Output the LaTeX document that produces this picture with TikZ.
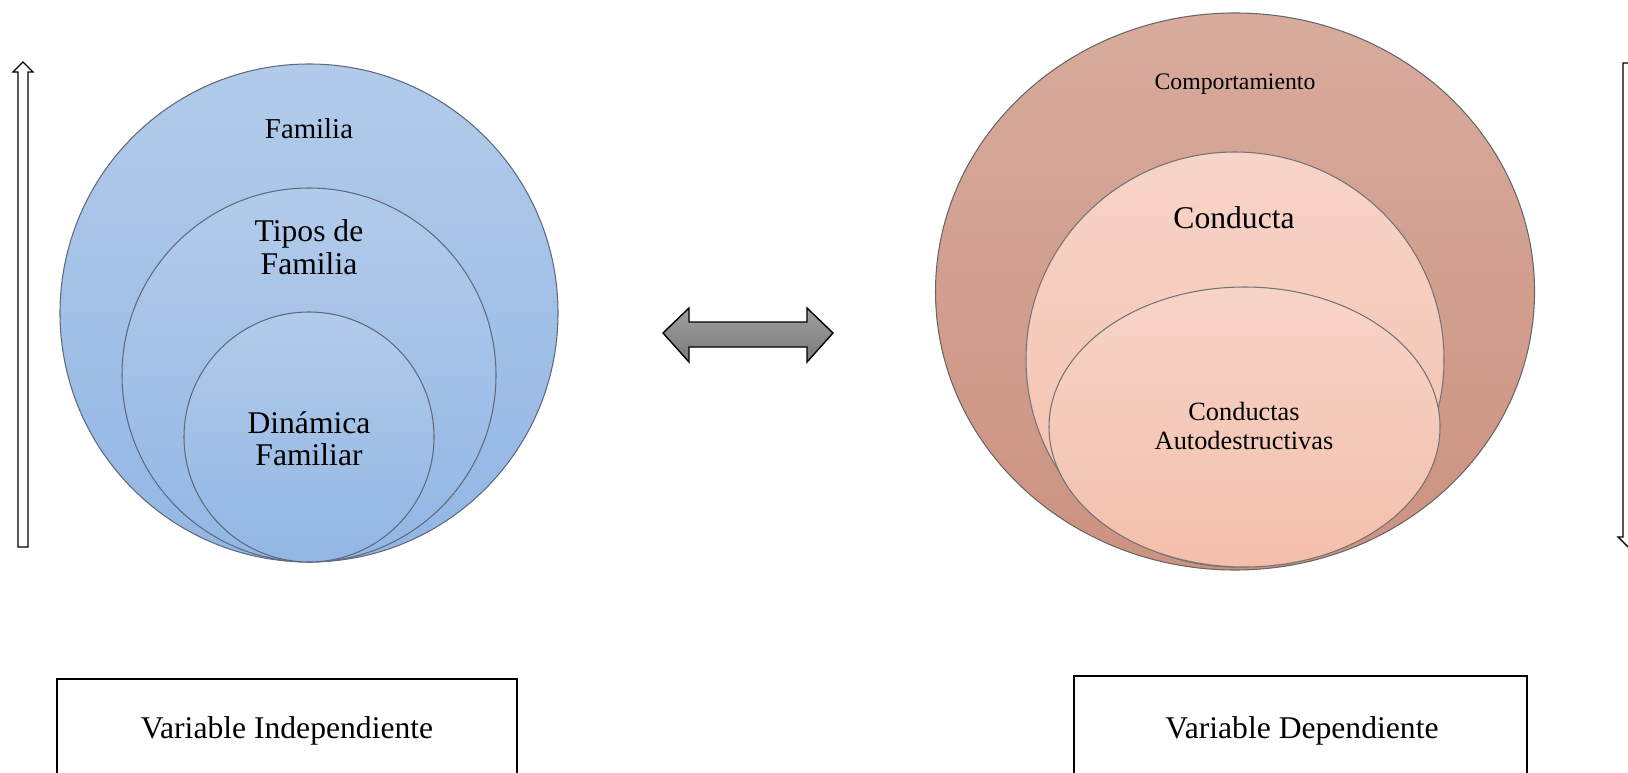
\documentclass[tikz,border=0pt]{standalone}
\usepackage{fontspec}
\setmainfont{Liberation Serif}
\usepackage{xcolor}
\usetikzlibrary{positioning}
\definecolor{azulA}{RGB}{178,203,234}
\definecolor{azulB}{RGB}{146,182,228}
\definecolor{bordeazul}{RGB}{95,105,125}
\definecolor{rojoA}{RGB}{216,171,156}
\definecolor{rojoB}{RGB}{204,146,128}
\definecolor{rosaA}{RGB}{247,212,200}
\definecolor{rosaB}{RGB}{243,191,171}
\tikzset{
  azul/.style={top color=azulA,bottom color=azulB,draw=bordeazul,line width=0.6pt},
  rojo/.style={top color=rojoA,bottom color=rojoB,draw=black!60,line width=0.6pt},
  rosa/.style={top color=rosaA,bottom color=rosaB,draw=black!55,line width=0.6pt},
  flecha/.style={draw=black,line width=0.8pt,fill=white},
  caja/.style={draw=black,line width=1.1pt,fill=white},
  txt/.style={align=center,font=\fontsize{18}{19}\selectfont,inner sep=0pt}
}

\begin{document}
\begin{tikzpicture}[x=0.02cm,y=0.02cm]
\useasboundingbox (0,0) rectangle (1628,772);
\clip (0,0) rectangle (1628,772);
% flechas laterales
\draw[flecha] (18,225) -- (18,700) -- (13,700) -- (23,710) -- (33,700) -- (28,700) -- (28,225) -- cycle;
\draw[flecha] (1623,709) -- (1623,235) -- (1618,235) -- (1628,225) -- (1638,235) -- (1633,235) -- (1633,709) -- cycle;
% circulos de la variable independiente
\draw[azul] (309,459) circle (249);
\draw[azul] (309,397) circle (187);
\draw[azul] (309,335) circle (125);
\node[txt,font=\fontsize{16.4}{18}\selectfont] (familia) at (309,643) {Familia};
\node[txt] (tipos) at (309,525) {Tipos de\\Familia};
\node[txt,font=\fontsize{18}{18.2}\selectfont] (dinamica) at (309,333) {Dinámica\\Familiar};
% flecha doble
\draw[line width=0.8pt,top color=gray!75,bottom color=gray!90!black!95,draw=black]
  (663,439) -- (689,464) -- (689,450) -- (807,450) -- (807,464) -- (833,439)
  -- (807,410) -- (807,425) -- (689,425) -- (689,410) -- cycle;
% elipses de la variable dependiente
\draw[rojo] (1235,480.5) ellipse (299.5 and 278.5);
\draw[rosa] (1235,412.5) ellipse (209 and 207.5);
\draw[rosa] (1244.5,345) ellipse (195.5 and 140);
\node[txt,font=\fontsize{13.5}{15}\selectfont] (comp) at (1235,688) {Comportamiento};
\node[txt] (conducta) at (1234,554) {Conducta};
\node[txt,font=\fontsize{15}{16.3}\selectfont] (autod) at (1244,346) {Conductas\\Autodestructivas};
% cajas
\draw[caja] (57,-10) rectangle (517,93);
\draw[caja] (1074,-10) rectangle (1527,96);
\node[txt] (indep) at (287,41) {Variable Independiente};
\node[txt] (dep) at (1302,41) {Variable Dependiente};
\end{tikzpicture}
\end{document}
